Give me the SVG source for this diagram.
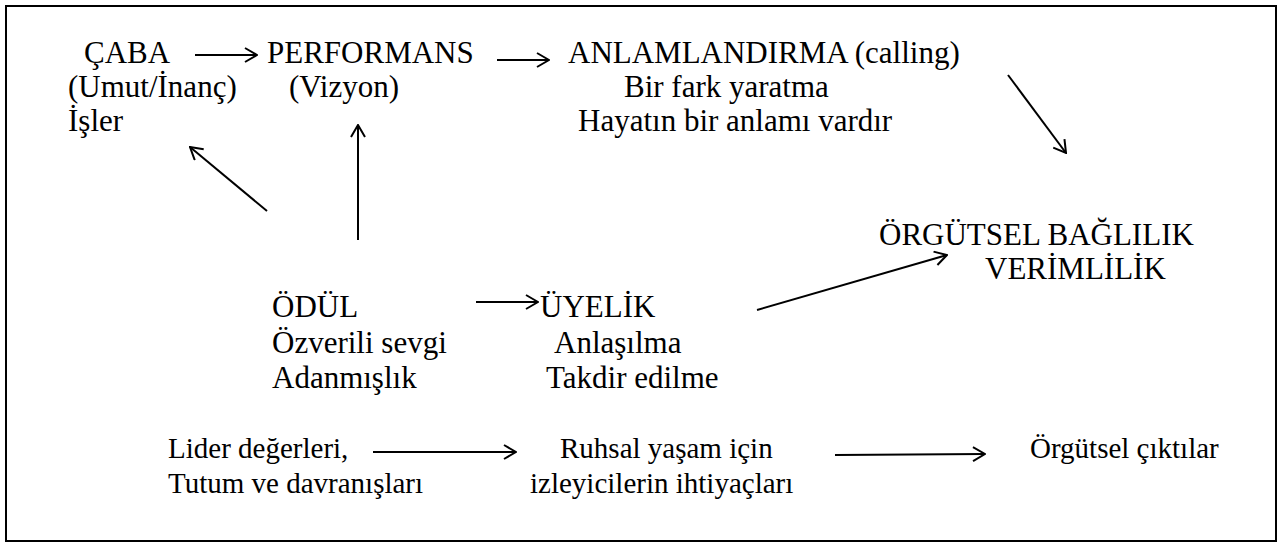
<svg xmlns="http://www.w3.org/2000/svg" width="1280" height="546" viewBox="0 0 1280 546">
  <style>
    .t { font-size: 31px; }
    .s { font-size: 29px; }
    .c line { stroke: #000; stroke-width: 2; marker-end: url(#open); }
  </style>
  <defs>
    <!-- open chevron arrowhead shared by every connector -->
    <marker id="open" viewBox="0 0 14 16" refX="13" refY="8" markerWidth="14" markerHeight="16" markerUnits="userSpaceOnUse" orient="auto">
      <path d="M1,1 L13,8 L1,15" fill="none" stroke="#000" stroke-width="2"/>
    </marker>
  </defs>
  <rect x="0" y="0" width="1280" height="546" fill="#fff"/>
  <rect x="6" y="6" width="1270" height="535" fill="none" stroke="#000" stroke-width="2"/>

  <g font-family="'Liberation Serif', 'DejaVu Serif', serif" fill="#000">
    <g id="caba">
      <text class="t" x="84" y="63">ÇABA</text>
      <text class="t" x="68" y="97">(Umut/İnanç)</text>
      <text class="t" x="68" y="131">İşler</text>
    </g>
    <g id="performans">
      <text class="t" x="267" y="63">PERFORMANS</text>
      <text class="t" x="289" y="97">(Vizyon)</text>
    </g>
    <g id="anlamlandirma">
      <text class="t" x="568" y="63">ANLAMLANDIRMA (calling)</text>
      <text class="t" x="624" y="97">Bir fark yaratma</text>
      <text class="t" x="578" y="131">Hayatın bir anlamı vardır</text>
    </g>
    <g id="orgutsel-baglilik">
      <text class="t" x="879" y="245">ÖRGÜTSEL BAĞLILIK</text>
      <text class="t" x="985" y="279">VERİMLİLİK</text>
    </g>
    <g id="odul">
      <text class="t" x="272" y="317">ÖDÜL</text>
      <text class="t" x="272" y="353">Özverili sevgi</text>
      <text class="t" x="272" y="388">Adanmışlık</text>
    </g>
    <g id="uyelik">
      <text class="t" x="540" y="317">ÜYELİK</text>
      <text class="t" x="554" y="353">Anlaşılma</text>
      <text class="t" x="546" y="388">Takdir edilme</text>
    </g>
    <g id="lider">
      <text class="s" x="168" y="458">Lider değerleri,</text>
      <text class="s" x="168" y="493">Tutum ve davranışları</text>
    </g>
    <g id="ruhsal">
      <text class="s" x="560" y="458">Ruhsal yaşam için</text>
      <text class="s" x="530" y="493">izleyicilerin ihtiyaçları</text>
    </g>
    <g id="ciktilar">
      <text class="s" x="1030" y="458">Örgütsel çıktılar</text>
    </g>
  </g>

  <g id="connectors" class="c">
    <line x1="195" y1="55" x2="257" y2="55"/>
    <line x1="497" y1="60" x2="549" y2="60"/>
    <line x1="1008" y1="75" x2="1066" y2="153"/>
    <line x1="267" y1="211" x2="190" y2="147"/>
    <line x1="358" y1="240" x2="358" y2="125"/>
    <line x1="757" y1="310" x2="947" y2="255"/>
    <line x1="476" y1="302" x2="538" y2="302"/>
    <line x1="373" y1="452" x2="516" y2="452"/>
    <line x1="835" y1="455" x2="985" y2="454"/>
  </g>
</svg>
